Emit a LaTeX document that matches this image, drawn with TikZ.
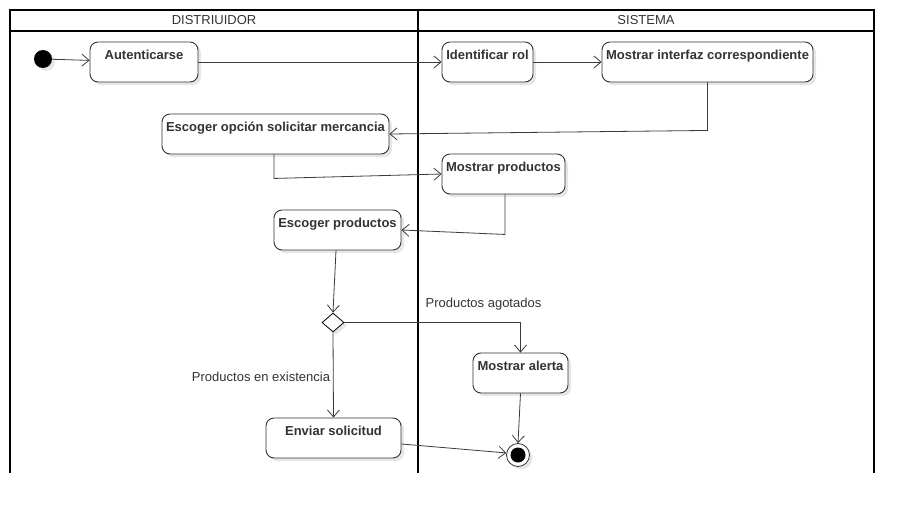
\documentclass[tikz,border=0pt]{standalone}
\usepackage{fontspec}
\setmainfont{Liberation Sans}
\usetikzlibrary{arrows.meta,shapes.geometric,shadows}
\definecolor{txt}{HTML}{333333}
\definecolor{edge}{HTML}{3A3A3A}
\tikzset{
  shad/.style={drop shadow={shadow xshift=3pt,shadow yshift=-3pt,fill=black!12,opacity=0.8}},
  act/.style={draw=black!80,line width=0.9pt,rounded corners=8pt,fill=white,shad,
    inner xsep=0pt,inner ysep=0pt,text height=17.5pt,text depth=22.5pt,
    text=txt,font=\bfseries\fontsize{13}{15}\selectfont,align=center},
  lane/.style={draw=black,line width=1.8pt},
  hdr/.style={text=txt,font=\fontsize{13}{15}\selectfont,inner sep=0pt},
  lbl/.style={text=txt,font=\fontsize{13}{15}\selectfont,inner sep=1pt},
  flow/.style={draw=edge,line width=0.8pt,-{Straight Barb[length=7pt,width=12pt,line width=0.8pt]}},
}
\begin{document}
\begin{tikzpicture}[x=1pt,y=-1pt]
\useasboundingbox (0,0) rectangle (914,514);
% swimlanes
\draw[lane] (10,473) -- (10,10) -- (874,10) -- (874,473);
\draw[lane] (10,31) -- (874,31);
\draw[lane] (418,10) -- (418,473);
\node[hdr] (h1) at (214,20.5) {DISTRIUIDOR};
\node[hdr] (h2) at (646,20.5) {SISTEMA};
% nodes
\node[circle,fill=black,minimum size=18pt,inner sep=0pt,shad] (ini) at (43,59) {};
\node[act,minimum width=108pt] (au) at (144,62) {Autenticarse};
\node[act,minimum width=91pt] (ir) at (487.5,62) {Identificar rol};
\node[act,minimum width=211pt] (mi) at (707.5,62) {Mostrar interfaz correspondiente};
\node[act,minimum width=227pt] (eo) at (275.5,134) {Escoger opción solicitar mercancia};
\node[act,minimum width=123pt] (mp) at (503.5,174) {Mostrar productos};
\node[act,minimum width=127pt] (ep) at (337.5,230) {Escoger productos};
\node[diamond,draw=black,line width=0.8pt,fill=white,minimum width=22pt,minimum height=19pt,inner sep=0pt,shad] (d) at (333,322.5) {};
\node[act,minimum width=95pt] (ma) at (520.5,373) {Mostrar alerta};
\node[act,minimum width=135pt] (es) at (333.5,438) {Enviar solicitud};
\node[circle,draw=black!80,line width=0.8pt,fill=white,minimum size=23pt,inner sep=0pt,shad] (fin) at (518,455) {};
\node[circle,fill=black,minimum size=15pt,inner sep=0pt] (fini) at (fin) {};
% edges
\draw[flow] (ini) -- (au);
\draw[flow] (au) -- (ir);
\draw[flow] (ir) -- (mi);
\draw[flow] (mi.south) -- ++(0,48) -- (eo.east);
\draw[flow] (eo.south -| 274,0) -- ++(0,24) -- (mp.west);
\draw[flow] (mp.south -| 505,0) -- ++(0,40) -- (ep.east);
\draw[flow] (ep.south -| 336,0) -- (d.north);
\draw[flow] (d.east) -| (ma.north);
\draw[flow] (d.south) -- (es.north);
\draw[flow] (ma.south) -- (fin.north);
\draw[flow] ([yshift=-6pt]es.east) -- (fin.170);
% labels
\node[lbl] (la) at (483.5,304) {Productos agotados};
\node[lbl,fill=white] (le) at (261,377) {Productos en existencia};
\end{tikzpicture}
\end{document}
